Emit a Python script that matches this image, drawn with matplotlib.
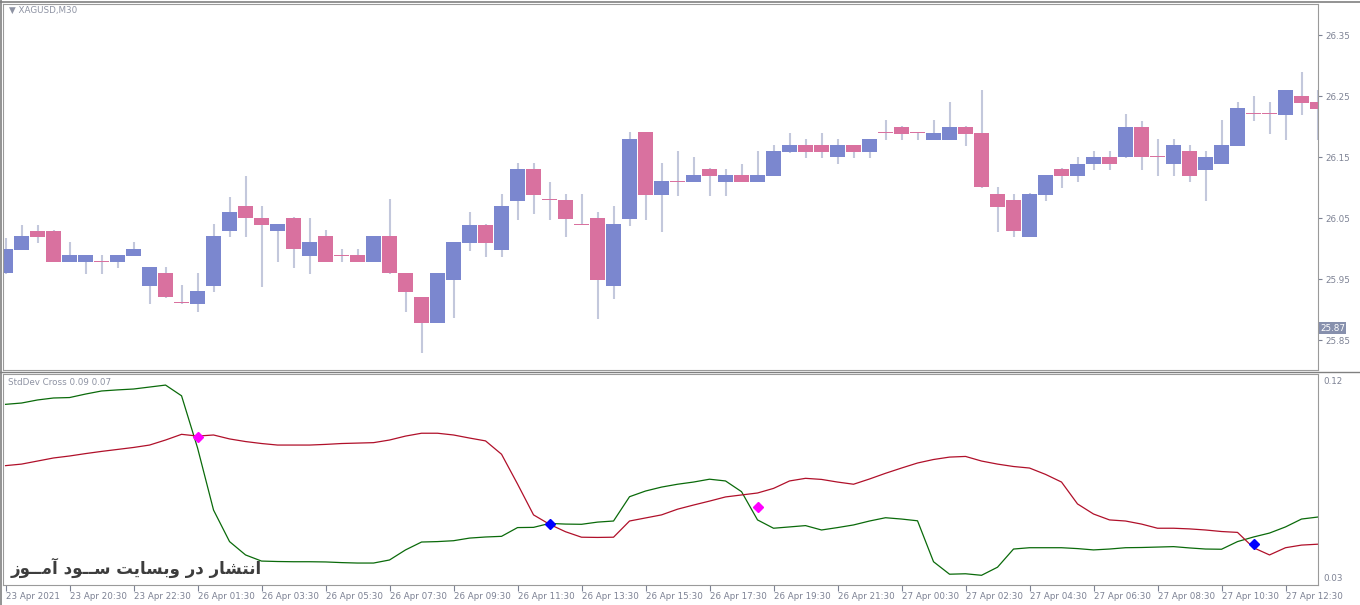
import matplotlib
matplotlib.use("Agg")
import matplotlib.pyplot as plt
from matplotlib.lines import Line2D

# XAGUSD M30 candles
opens = [25.960, 25.998, 26.030, 26.030, 25.979, 25.979, 25.980, 25.979, 25.989, 25.940,
         25.961, 25.912, 25.910, 25.940, 26.030, 26.071, 26.051, 26.030, 26.051, 25.989,
         26.021, 25.990, 25.990, 25.979, 26.021, 25.960, 25.921, 25.879, 25.949, 26.010,
         26.040, 25.998, 26.079, 26.131, 26.081, 26.080, 26.041, 26.050, 25.940, 26.049,
         26.191, 26.089, 26.111, 26.110, 26.131, 26.110, 26.121, 26.110, 26.120, 26.159,
         26.170, 26.170, 26.150, 26.170, 26.159, 26.191, 26.200, 26.191, 26.179, 26.179,
         26.200, 26.190, 26.090, 26.080, 26.020, 26.089, 26.131, 26.120, 26.140, 26.150,
         26.150, 26.200, 26.151, 26.140, 26.161, 26.130, 26.140, 26.169, 26.222, 26.222,
         26.220, 26.251, 26.241]
highs = [26.018, 26.040, 26.040, 26.031, 26.011, 25.990, 25.990, 25.990, 26.011, 25.971,
         25.970, 25.941, 25.960, 26.041, 26.085, 26.120, 26.071, 26.041, 26.052, 26.051,
         26.031, 26.000, 26.000, 26.021, 26.082, 25.961, 25.922, 25.961, 26.011, 26.061,
         26.041, 26.090, 26.141, 26.141, 26.110, 26.090, 26.090, 26.060, 26.070, 26.191,
         26.192, 26.141, 26.160, 26.150, 26.132, 26.131, 26.140, 26.160, 26.170, 26.190,
         26.180, 26.190, 26.180, 26.171, 26.181, 26.211, 26.201, 26.192, 26.211, 26.241,
         26.201, 26.261, 26.101, 26.090, 26.091, 26.122, 26.132, 26.150, 26.161, 26.161,
         26.221, 26.210, 26.180, 26.180, 26.170, 26.161, 26.211, 26.241, 26.251, 26.241,
         26.261, 26.290, 26.261]
lows = [25.959, 25.998, 26.010, 25.978, 25.978, 25.959, 25.959, 25.969, 25.988, 25.910,
        25.920, 25.910, 25.897, 25.930, 26.019, 26.019, 25.938, 25.978, 25.969, 25.959,
        25.978, 25.979, 25.978, 25.978, 25.959, 25.897, 25.830, 25.878, 25.887, 25.997,
        25.987, 25.987, 26.048, 26.057, 26.048, 26.019, 26.039, 25.886, 25.918, 26.038,
        26.048, 26.028, 26.087, 26.109, 26.087, 26.087, 26.109, 26.109, 26.119, 26.158,
        26.149, 26.149, 26.139, 26.149, 26.149, 26.179, 26.179, 26.179, 26.178, 26.178,
        26.169, 26.100, 26.028, 26.019, 26.019, 26.078, 26.100, 26.110, 26.130, 26.130,
        26.149, 26.130, 26.119, 26.119, 26.110, 26.078, 26.139, 26.168, 26.209, 26.189,
        26.179, 26.220, 26.179]
closes = [26.000, 26.021, 26.020, 25.979, 25.990, 25.990, 25.979, 25.990, 26.000, 25.970,
          25.921, 25.911, 25.931, 26.021, 26.061, 26.050, 26.040, 26.041, 26.000, 26.011,
          25.979, 25.989, 25.979, 26.021, 25.960, 25.930, 25.879, 25.960, 26.011, 26.040,
          26.010, 26.071, 26.131, 26.089, 26.080, 26.049, 26.040, 25.949, 26.041, 26.180,
          26.089, 26.111, 26.110, 26.121, 26.120, 26.121, 26.110, 26.121, 26.160, 26.170,
          26.159, 26.159, 26.170, 26.159, 26.180, 26.190, 26.189, 26.190, 26.190, 26.200,
          26.189, 26.101, 26.069, 26.030, 26.090, 26.121, 26.120, 26.140, 26.150, 26.140,
          26.200, 26.150, 26.150, 26.170, 26.120, 26.150, 26.170, 26.231, 26.221, 26.221,
          26.261, 26.240, 26.230]

# StdDev Cross indicator lines
green_line = [0.1092, 0.1098, 0.1112, 0.1121, 0.1123, 0.1139, 0.1153, 0.1158, 0.1162, 0.1171,
              0.1180, 0.1131, 0.0893, 0.0609, 0.0465, 0.0404, 0.0376, 0.0374, 0.0373, 0.0373,
              0.0372, 0.0369, 0.0367, 0.0367, 0.0381, 0.0427, 0.0463, 0.0465, 0.0469, 0.0481,
              0.0486, 0.0489, 0.0529, 0.0530, 0.0548, 0.0545, 0.0544, 0.0554, 0.0559, 0.0670,
              0.0696, 0.0714, 0.0727, 0.0737, 0.0750, 0.0742, 0.0693, 0.0564, 0.0526, 0.0532,
              0.0538, 0.0518, 0.0529, 0.0541, 0.0559, 0.0574, 0.0568, 0.0560, 0.0373, 0.0316,
              0.0318, 0.0311, 0.0348, 0.0431, 0.0437, 0.0437, 0.0437, 0.0433, 0.0427, 0.0431,
              0.0437, 0.0438, 0.0440, 0.0442, 0.0436, 0.0431, 0.0430, 0.0465, 0.0486, 0.0504,
              0.0532, 0.0568, 0.0577]
red_line = [0.0812, 0.0819, 0.0833, 0.0847, 0.0856, 0.0867, 0.0877, 0.0886, 0.0895, 0.0906,
            0.0929, 0.0955, 0.0947, 0.0952, 0.0934, 0.0922, 0.0913, 0.0906, 0.0906, 0.0906,
            0.0909, 0.0913, 0.0915, 0.0917, 0.0929, 0.0947, 0.0960, 0.0960, 0.0952, 0.0938,
            0.0925, 0.0864, 0.0728, 0.0587, 0.0544, 0.0510, 0.0485, 0.0484, 0.0485, 0.0559,
            0.0573, 0.0587, 0.0613, 0.0632, 0.0650, 0.0669, 0.0678, 0.0687, 0.0708, 0.0742,
            0.0754, 0.0749, 0.0737, 0.0727, 0.0751, 0.0777, 0.0801, 0.0824, 0.0840, 0.0851,
            0.0854, 0.0833, 0.0819, 0.0808, 0.0801, 0.0772, 0.0737, 0.0637, 0.0591, 0.0564,
            0.0559, 0.0545, 0.0526, 0.0526, 0.0523, 0.0518, 0.0511, 0.0507, 0.0437, 0.0404,
            0.0437, 0.0449, 0.0453]

# cross signals
sell_idx = [12, 47]
sell_val = [0.0943, 0.0625]
buy_idx = [34, 78]
buy_val = [0.0544, 0.0453]

time_labels = ["23 Apr 2021", "23 Apr 20:30", "23 Apr 22:30", "26 Apr 01:30", "26 Apr 03:30",
               "26 Apr 05:30", "26 Apr 07:30", "26 Apr 09:30", "26 Apr 11:30", "26 Apr 13:30",
               "26 Apr 15:30", "26 Apr 17:30", "26 Apr 19:30", "26 Apr 21:30", "27 Apr 00:30",
               "27 Apr 02:30", "27 Apr 04:30", "27 Apr 06:30", "27 Apr 08:30", "27 Apr 10:30",
               "27 Apr 12:30"]
price_ticks = [25.85, 25.95, 26.05, 26.15, 26.25, 26.35]
last_price = 25.87

up_col = '#7b87cf'
dn_col = '#d9719f'
wick_col = '#c3c8dc'
txt_col = '#7d8294'
frame_col = '#9a9a9a'

fig = plt.figure(figsize=(13.6, 6.05), dpi=100)
ax = fig.add_axes([0.0022, 0.38843, 0.96691, 0.60496])
ax2 = fig.add_axes([0.0022, 0.03306, 0.96691, 0.34876])

# candles
n = len(opens)
for i in range(n):
    o, h, l, c = opens[i], highs[i], lows[i], closes[i]
    ax.vlines(i, l, h, color=wick_col, lw=1.5, zorder=1)
    col = up_col if c > o else dn_col
    ax.bar(i, max(abs(c - o), 0.0016), bottom=min(o, c), width=0.9, color=col, lw=0, zorder=2)

ax.set_xlim(-0.16, 82.03)
ax.set_ylim(25.8016, 26.4016)
ax.set_xticks([])
ax.yaxis.tick_right()
ax.set_yticks(price_ticks)
ax.set_yticklabels(["%.2f" % p for p in price_ticks])
ax.tick_params(axis='y', colors=txt_col, labelsize=6.3, length=3, width=0.8, pad=2)
for s in ax.spines.values():
    s.set_color(frame_col)
ax.text(0.0045, 0.983, "\u25bc XAGUSD,M30", transform=ax.transAxes, fontsize=6.3,
        color='#8e93a3', va='center', ha='left')
ax.text(1.0015, last_price, "%.2f" % last_price, transform=ax.get_yaxis_transform(),
        fontsize=6.3, color='white', va='center', ha='left',
        bbox=dict(boxstyle='square,pad=0.15', fc='#8790ad', ec='none'))

# indicator
ax2.plot(range(n), green_line, color='#0a6a0a', lw=0.9)
ax2.plot(range(n), red_line, color='#b0102a', lw=0.9)
ax2.plot(sell_idx, sell_val, 'D', color='#ff00ff', ms=5.5, mec='#ff00ff')
ax2.plot(buy_idx, buy_val, 'D', color='#0000ff', ms=5.5, mec='#0000ff')
ax2.set_xlim(-0.16, 82.03)
ax2.set_ylim(0.02667, 0.12306)
ax2.yaxis.tick_right()
ax2.set_yticks([0.12, 0.03])
ax2.set_yticklabels(["0.12", "0.03"])
ax2.tick_params(axis='y', colors=txt_col, labelsize=6.3, length=0, pad=4)
ax2.set_xticks(range(0, 81, 4))
ax2.set_xticklabels(time_labels, ha='left')
ax2.tick_params(axis='x', colors=txt_col, labelsize=6.3, length=4, width=0.8, pad=1)
for s in ax2.spines.values():
    s.set_color(frame_col)
ax2.text(0.004, 0.96, "StdDev Cross 0.09 0.07", transform=ax2.transAxes, fontsize=6.3,
         color='#8e93a3', va='center', ha='left')

# watermark (Persian, shaped with presentation forms, visual order)
wm = ("\ufeaf\ufeee\u0640\u0640\ufee3\ufe81 "
      "\ufea9\ufeee\u0640\u0640\ufeb3 "
      "\ufe96\ufef3\ufe8e\ufeb4\ufe91\ufeed "
      "\ufead\ufea9 "
      "\ufead\ufe8e\ufeb8\ufe98\ufee7\ufe8d")
ax2.text(0.006, 0.08, wm, transform=ax2.transAxes, fontsize=12, fontweight='bold',
         color='#3d3d3d', va='center', ha='left', family=['DejaVu Sans'])

# outer frame lines
fig.add_artist(Line2D([0, 1], [0.9967, 0.9967], color='#808080', lw=1.2))
fig.add_artist(Line2D([0.001, 0.001], [0, 1], color='#808080', lw=1.2))
fig.add_artist(Line2D([0, 1], [0.3851, 0.3851], color='#808080', lw=1.0))

fig.savefig("out.png", dpi=100)
